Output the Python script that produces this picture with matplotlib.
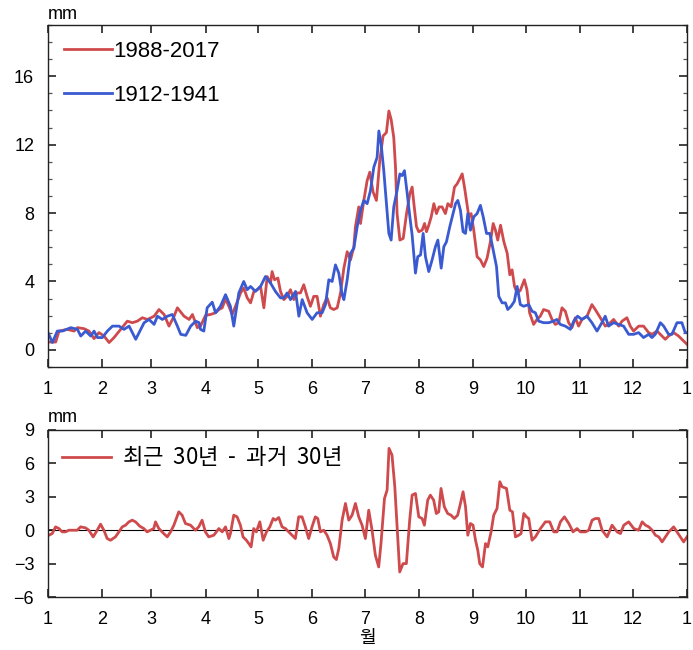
import matplotlib
matplotlib.use("Agg")
import matplotlib.pyplot as plt
import numpy as np

# Daily precipitation climatology (mm), day offset from 1 January
recent_days = [0, 4.4, 6.3, 11.0, 14.9, 16.8, 20.6, 23.4, 26.3, 29.1, 32.0, 34.9, 37.7, 41.5, 45.3,
               48.2, 51.0, 53.9, 56.8, 60.6, 63.4, 66.3, 69.1, 72.0, 73.9, 77.7, 80.6, 82.5, 85.3,
               87.1, 90.0, 92.8, 95.7, 97.6, 99.5, 101.4, 103.3, 105.2, 107.1, 110.0, 111.8, 113.8,
               115.7, 117.6, 119.5, 121.4, 123.3, 125.2, 127.1, 128.0, 129.4, 131.3, 132.8, 134.7,
               136.6, 138.5, 140.4, 142.3, 144.2, 146.1, 148.0, 149.9, 151.8, 153.7, 155.6, 157.5,
               159.4, 161.3, 163.2, 165.2, 167.1, 169.0, 170.9, 172.8, 174.7, 175.6, 177.5,
               178.5, 180.4, 182.3, 183.8, 185.7, 187.6, 189.5, 191.4, 193.3, 194.7, 196.0, 197.5,
               198.5, 199.4, 201.0, 202.9, 204.8, 206.7, 208.0, 209.0, 210.5, 211.8, 213.7, 215.1,
               216.2, 217.5, 218.9, 220.4, 221.9, 223.4, 225.1, 227.0, 228.4, 230.3, 232.2, 233.7,
               235.2, 236.6, 237.9, 239.0, 240.4, 241.7, 243.2, 245.1, 247.0, 248.9, 250.8, 252.7,
               254.3, 255.6, 256.9, 258.5, 260.4, 262.3, 263.8, 265.1, 266.5, 268.0,
               269.8, 272.1, 273.6, 275.1, 277.4, 279.3, 281.2, 283.1, 286.0, 287.9, 289.8, 291.7,
               293.6, 295.5, 297.4, 299.3, 301.2, 303.1, 305.0, 307.9, 310.7, 312.6, 315.5, 318.3,
               320.2, 323.1, 326.0, 327.9, 330.7, 332.6, 334.5, 337.4, 340.2, 343.1, 345.0, 347.9,
               350.7, 352.6, 354.5, 357.4, 360.2, 363.1, 365.0]
recent_mm = [0.46, 0.46, 1.10, 1.20, 1.10, 1.30, 1.24, 1.10, 0.66, 1.01, 0.81, 0.43, 0.72, 1.20, 1.68,
             1.59, 1.68, 1.88, 1.78, 1.97, 2.36, 2.07, 1.39, 1.97, 2.46, 1.97, 1.78, 2.07, 1.30,
             1.39, 2.02, 2.07, 2.17, 2.36, 2.46, 2.98, 2.55, 2.07, 2.55, 3.33, 3.62, 3.04,
             2.75, 3.42, 3.52, 3.71, 2.46, 4.29, 3.91, 4.58, 4.10, 4.20, 3.42, 2.94,
             3.13, 3.52, 2.94, 3.33, 3.33, 3.81, 3.13, 2.55, 3.13, 3.13, 1.97, 2.65,
             3.04, 2.46, 2.36, 2.46, 3.33, 4.78, 5.74, 5.26, 6.03, 7.20, 8.36,
             7.39, 8.74, 9.90, 10.39, 9.23, 8.74, 11.06, 12.51, 12.71, 13.97, 13.48, 12.42,
             10.68, 7.97, 6.42, 6.52, 7.97, 9.13, 9.52, 8.55, 7.20, 6.91, 7.00, 7.39,
             6.91, 7.29, 7.78, 8.55, 7.97, 8.36, 8.36, 7.97, 8.55, 8.36, 9.52, 9.71,
             10.00, 10.29, 9.52, 8.74, 7.78, 7.97, 7.00, 5.45, 5.26, 4.87, 5.36, 6.32,
             7.39, 7.00, 6.42, 7.29, 6.32, 5.65, 4.39, 4.68, 3.71, 3.33,
             3.48, 4.10, 3.52, 2.17, 1.49, 1.78, 1.97, 2.36, 2.26, 1.78, 1.49, 1.59,
             2.46, 2.26, 1.59, 1.30, 1.88, 1.39, 1.78, 1.97, 2.65, 2.36, 1.88, 1.39,
             1.49, 1.78, 1.39, 1.68, 1.88, 1.39, 1.10, 1.39, 1.39, 1.01, 0.91, 1.10,
             0.81, 0.62, 0.81, 1.01, 0.81, 0.52, 0.33]

past_days = [0, 2.5, 5.3, 8.2, 13.0, 16.8, 18.7, 21.5, 24.4, 26.3, 28.2, 31.0, 33.9, 36.8, 40.6,
             43.4, 46.3, 50.1, 53.0, 54.9, 57.7, 60.6, 62.5, 65.3, 68.2, 71.0, 73.9, 75.8, 78.7,
             81.5, 84.4, 86.3,
             87.1, 89.0, 90.9, 93.8, 95.7, 98.5, 101.4, 104.2, 106.1, 109.0, 111.8, 113.8, 115.7,
             118.5, 121.4, 124.2, 127.1, 129.9, 132.8, 134.7, 136.6, 138.5, 141.4, 143.3, 145.2,
             148.0, 150.9, 153.7, 156.6, 158.5, 160.4, 162.3, 164.2, 166.1, 168.0, 169.0, 170.9,
             172.8, 174.7, 176.6,
             178.5, 180.4, 182.3, 184.2, 186.1, 188.0, 189.0, 190.3, 191.8, 193.3, 194.7, 196.0,
             197.5, 199.4, 201.0, 202.3, 203.6, 205.2, 206.7, 208.0, 209.9, 211.2, 212.8, 214.3,
             215.6, 217.5, 219.4, 221.3, 222.7, 224.6, 226.1, 227.6, 229.5, 231.4, 232.8, 234.1,
             235.6, 237.1, 238.5, 239.8, 241.3, 243.2, 245.1, 247.0, 248.6, 250.5, 252.4, 254.3,
             256.2, 257.5, 259.4, 261.3, 262.6, 264.5, 266.4, 268.0,
             269.8, 271.7, 274.6, 276.5, 278.4, 280.3, 283.1, 286.0, 288.8, 290.7, 292.6, 295.5,
             298.4, 300.3, 302.5, 305.0, 307.9, 310.7, 313.6, 316.4, 318.3, 320.2, 323.1, 326.0,
             328.8, 331.7, 334.5, 337.4, 340.2, 343.1, 345.0, 346.9, 349.8, 351.7, 354.5, 356.4,
             359.3, 362.1, 364.0, 365.0]
past_mm = [1.01, 0.43, 1.10, 1.10, 1.30, 1.20, 0.81, 1.10, 0.81, 1.10, 0.72, 0.72, 1.10, 1.39, 1.39,
           1.20, 1.39, 0.62, 1.20, 1.59, 1.78, 1.49, 1.97, 1.78, 1.97, 2.07, 1.39, 0.91, 0.85,
           1.39, 1.68, 1.59,
           1.20, 1.10, 2.46, 2.79, 2.17, 2.55, 3.23, 2.55, 1.39, 3.33, 4.00, 3.52, 3.71,
           3.42, 3.71, 4.29, 3.91, 3.42, 3.04, 3.04, 3.33, 2.94, 3.42, 1.97, 2.94,
           2.17, 1.78, 2.17, 2.17, 2.65, 4.10, 4.00, 4.97, 4.49, 3.23, 2.94, 4.10,
           5.65, 5.94, 7.20,
           8.16, 8.74, 8.55, 9.32, 10.68, 11.26, 12.80, 12.03, 10.48, 8.55, 6.81, 6.42,
           8.36, 9.32, 10.29, 10.19, 10.48, 9.13, 7.78, 6.71, 4.49, 5.45, 5.55, 6.81,
           5.45, 4.58, 5.26, 6.03, 6.42, 4.78, 6.03, 6.32, 7.20, 7.97, 8.55, 8.74,
           8.16, 6.91, 6.81, 7.97, 7.00, 7.78, 7.97, 8.45, 7.78, 6.81, 6.81, 5.84,
           4.87, 3.13, 2.75, 2.75, 2.36, 2.55, 2.84, 3.71,
           2.65, 2.55, 2.65, 2.26, 2.17, 1.68, 1.59, 1.59, 1.68, 1.78, 1.49, 1.39,
           1.20, 1.68, 1.97, 1.78, 1.97, 1.59, 1.10, 1.59, 1.97, 1.39, 1.59, 1.49,
           1.39, 0.91, 0.91, 1.01, 0.72, 0.91, 0.72, 0.91, 1.59, 1.39, 0.91, 0.91,
           1.59, 1.59, 1.01, 1.01]

# Difference, recent 30 years minus past 30 years (mm)
diff_days = [0.5, 2.4, 4.3, 6.2, 8.1, 10.0, 11.9, 13.8, 16.7, 18.6, 21.4, 23.3, 25.8, 28.1, 30.0,
             31.9, 33.8, 35.7, 38.5, 40.5, 42.4, 44.3, 46.2, 48.1, 50.0, 52.4, 54.7, 56.6, 58.5,
             60.4, 61.4, 63.3, 66.1, 68.1, 70.0, 71.9, 74.7, 76.6, 78.5, 81.4, 84.2, 86.1, 88.0,
             89.9, 91.8, 94.7, 97.6, 99.5, 101.4, 103.3,
             104.2, 106.1, 108.0, 109.9, 111.4, 113.3, 114.7, 116.0, 117.5, 119.0, 121.0, 122.9,
             124.8, 126.7, 128.6, 129.9, 131.8, 133.7, 135.6, 137.5, 139.4, 141.3, 143.2, 145.1,
             147.0, 148.9, 150.8, 152.7, 154.1, 155.6, 157.5, 159.4, 161.3, 163.2, 164.7, 166.1,
             168.0, 169.9, 171.8, 173.7, 175.6, 177.5, 179.4, 181.3, 183.2, 185.1, 187.0, 188.9,
             190.2, 192.2, 193.7, 194.8, 196.5, 198.1, 199.4, 200.9, 202.8, 204.7, 206.6, 208.0,
             209.9, 211.8, 213.7, 215.0, 216.9, 218.4, 220.3, 221.8, 223.2, 224.5, 226.4, 228.3,
             230.2, 232.1, 234.0,
             235.6, 237.1, 238.5, 239.8, 241.3, 242.8, 244.2, 245.5, 246.6, 248.2, 249.9, 251.2,
             253.1, 254.6, 256.5, 258.1, 259.4, 261.9, 263.8, 265.3, 267.0, 268.9, 270.2, 271.8,
             273.3, 274.6, 276.5, 278.4, 281.3, 284.1, 286.6, 288.9, 290.8, 292.7, 295.0, 297.5,
             299.9, 302.2, 304.1, 307.0, 308.9, 310.8, 312.7, 314.6, 316.5, 319.4, 322.2, 325.1,
             327.0, 328.9, 331.7, 334.6, 337.4, 339.4, 341.3, 343.2, 345.1, 347.0, 348.9, 350.8,
             352.7, 354.6, 357.4, 359.3, 361.2, 363.1, 365.0]
diff_mm = [-0.45, -0.30, 0.30, 0.15, -0.15, -0.15, 0.0, 0.0, 0.0, 0.30, 0.21, 0.0, -0.60, 0.0, 0.54,
           0.0, -0.75, -0.90, -0.60, -0.15, 0.30, 0.45, 0.75, 0.90, 0.75, 0.36, 0.15, -0.15, 0.0,
           0.15, 0.75, 0.15, -0.30, -0.60, -0.15, 0.45, 1.65, 1.35, 0.60, 0.45, 0.0, 0.30, 0.90,
           -0.15, -0.60, -0.45, 0.15, -0.15, 0.30, -0.75,
           -0.30, 1.35, 1.20, 0.45, -0.60, -0.90, -1.20, -1.50, 0.15, -0.15, 0.75, -0.90,
           -0.15, 0.30, 1.05, 0.90, 1.14, 0.30, 0.15, -0.15, -0.45, -0.75, 1.20, 1.20,
           0.30, -0.75, 0.30, 1.20, 1.05, -0.15, 0.0, -0.45, -1.20, -2.40, -2.64, -1.65,
           0.90, 2.40, 0.90, 1.35, 2.40, 1.20, 0.45, -0.75, 1.80, 0.0, -2.25, -3.30,
           -1.20, 2.85, 3.60, 7.35, 6.75, 3.90, 0.30, -3.75, -3.00, -3.00, 0.90, 3.15,
           3.30, 1.20, 1.05, 0.45, 2.70, 3.15, 2.70, 1.50, 1.65, 3.75, 2.10, 1.50,
           1.35, 1.05, 1.35,
           2.40, 3.45, 2.10, -0.45, 0.60, 0.45, -0.90, -1.80, -3.00, -3.30, -1.20, -1.50,
           -0.15, 1.35, 1.95, 4.35, 3.90, 3.75, 1.80, 1.65, -0.60, -0.45, -0.30, 1.50,
           1.20, 1.05, -0.90, -0.60, 0.15, 0.75, 0.75, -0.15, -0.15, 0.75, 1.20, 0.60,
           -0.15, 0.15, -0.15, -0.15, 0.0, 0.90, 1.05, 1.05, 0.0, -0.60, 0.45, -0.15,
           -0.30, 0.45, 0.75, 0.15, 0.0, 0.75, 0.45, 0.30, 0.0, -0.45, -0.60, -1.05,
           -0.60, -0.15, 0.30, -0.15, -0.60, -1.05, -0.60]

month_starts = [0, 31, 59, 90, 120, 151, 181, 212, 243, 273, 304, 334, 365]
month_labels = ["1", "2", "3", "4", "5", "6", "7", "8", "9", "10", "11", "12", "1"]

RED = "#cf4a4c"
BLUE = "#3a5ad2"

plt.rcParams["font.family"] = ["Liberation Sans", "Noto Sans CJK KR", "DejaVu Sans"]
plt.rcParams["mathtext.fontset"] = "custom"
plt.rcParams["mathtext.rm"] = "Noto Sans CJK KR"
plt.rcParams["mathtext.bf"] = "Noto Sans CJK KR:bold"

fig = plt.figure(figsize=(6.93, 6.5), dpi=100)
ax1 = fig.add_axes([0.0693, 0.4354, 0.922, 0.5262])
ax2 = fig.add_axes([0.0693, 0.0815, 0.922, 0.2570])


def style_axes(ax):
    for s in ax.spines.values():
        s.set_linewidth(1.0)
        s.set_color("#222222")
    ax.set_xlim(0, 365)
    ax.set_xticks(month_starts)
    ax.set_xticklabels(month_labels)
    ax.tick_params(which="major", direction="in", length=6, width=1.2,
                   top=True, right=True, labelsize=13, pad=10, color="#222222")
    ax.tick_params(axis="x", pad=10)
    ax.tick_params(which="minor", direction="in", length=3, width=0.9,
                   top=False, right=True, color="#555555")


# Upper panel: two climatologies
ax1.plot(recent_days, recent_mm, color=RED, lw=2.0, label="1988-2017")
ax1.plot(past_days, past_mm, color=BLUE, lw=2.0, label="1912-1941")
style_axes(ax1)
ax1.set_ylim(-1, 19)
ax1.set_yticks([0, 4, 8, 12, 16])
ax1.set_yticks(np.arange(-1, 20, 1), minor=True)
ax1.text(0, 1.005, "mm", transform=ax1.transAxes, fontsize=13, ha="left", va="bottom")
ax1.legend(loc="upper left", bbox_to_anchor=(0.0, 1.0), frameon=False,
           fontsize=16, handlelength=2.2, handletextpad=0.05, labelspacing=1.05,
           borderaxespad=0.45, borderpad=0.25)

# Lower panel: difference
ax2.axhline(0, color="black", lw=0.8)
ax2.plot(diff_days, diff_mm, color=RED, lw=2.0,
         label=r"최근  $\mathbf{30년}$  -  과거  $\mathbf{30년}$")
style_axes(ax2)
ax2.set_ylim(-6, 9)
ax2.set_yticks([-6, -3, 0, 3, 6, 9])
ax2.text(0, 1.025, "mm", transform=ax2.transAxes, fontsize=13, ha="left", va="bottom")
ax2.set_xlabel("월", fontsize=13, labelpad=1,
               family=["Noto Sans CJK KR", "DejaVu Sans"])
ax2.legend(loc="upper left", bbox_to_anchor=(0.0, 1.0), frameon=False,
           handlelength=2.2, handletextpad=0.5,
           borderaxespad=0.3, borderpad=0.35,
           prop={"family": ["Noto Sans CJK KR", "DejaVu Sans"], "size": 16})

fig.savefig("out.png", dpi=100)
